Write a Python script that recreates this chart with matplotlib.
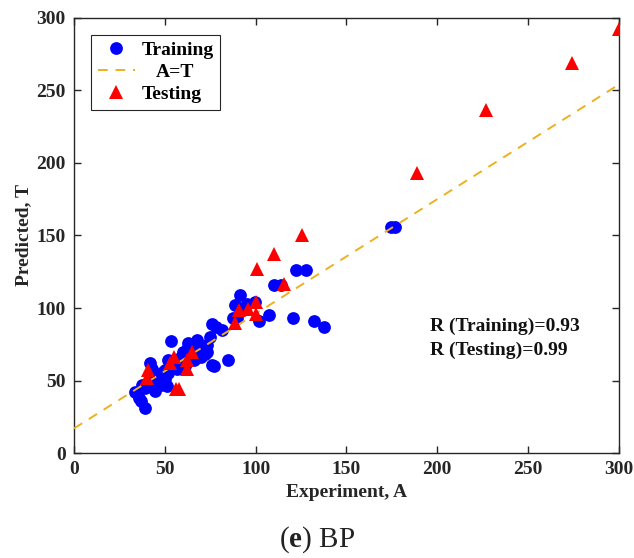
import numpy as np
import matplotlib
matplotlib.use('Agg')
import matplotlib.pyplot as plt

plt.rcParams['font.family'] = ['Liberation Serif', 'DejaVu Serif']
plt.rcParams['mathtext.fontset'] = 'custom'
plt.rcParams['mathtext.rm'] = 'Liberation Serif'
plt.rcParams['mathtext.bf'] = 'Liberation Serif:bold'

# Training set: experiment (A) vs predicted (T)
train_A = [33.5, 36, 37, 39, 37.5, 39, 41.8, 42.5, 43, 44.5, 45, 46.5, 48, 49, 50,
           50, 51, 52, 52, 53.5, 55, 56, 57, 59, 60, 61, 63, 63, 64, 66, 67.5, 68,
           69.3, 70, 72, 73, 73, 74.8, 75.8, 76, 77, 78, 81.3, 85, 87.7, 88.6, 90,
           91.4, 93, 95, 99.6, 102, 107.6, 110, 114, 120.5, 122, 128, 132, 137.5,
           174.5, 176.5]
train_T = [42, 38, 36, 31, 47, 45, 62, 50, 58, 43, 53, 50, 47, 56, 51,
           57, 46, 64, 55, 77, 60, 62, 58, 66, 70, 60, 76, 73, 67, 64, 78, 70,
           72, 66, 68, 74.5, 70, 80, 61, 89, 60, 87, 85, 64, 93, 102, 93,
           109, 100, 103, 104, 91, 95, 116, 116, 93, 126, 126, 91, 87,
           156, 156]

# Testing set
test_A = [41, 40, 53, 55, 56, 58, 62, 62, 65, 88.6, 91, 96, 100, 100.5, 101,
          110, 115.7, 125.5, 189, 227, 274, 300]
test_T = [57, 52, 62, 66, 44.5, 44, 64, 58, 70, 90, 98.6, 99, 104, 96, 127,
          137, 116.5, 150, 193, 236.5, 269, 292]

# Reference line
line_b = 17.0
line_m = 0.79

r_train = 0.93
r_test = 0.99

fig = plt.figure(figsize=(6.34, 5.58), dpi=100)
ax = fig.add_axes([0.1167, 0.188, 0.976 - 0.1167, 0.968 - 0.188])

ax.plot(train_A, train_T, 'o', color='#0000ff', markersize=9.2, markeredgewidth=0,
        label='Training', zorder=2)
xl = np.array([0, 300])
ax.plot(xl, line_b + line_m * xl, '--', color='#EDB120', linewidth=1.4,
        dashes=(5, 4), label='A=T', zorder=3)
ax.plot(test_A, test_T, '^', color='#ff0000', markersize=10, markeredgewidth=0,
        label='Testing', zorder=4)

ax.set_xlim(0, 300)
ax.set_ylim(0, 300)
ax.set_xticks(np.arange(0, 301, 50))
ax.set_yticks(np.arange(0, 301, 50))
ax.tick_params(direction='in', length=5, width=1, top=True, right=True,
               labelsize=14, colors='#262626', pad=6)
for lbl in ax.get_xticklabels() + ax.get_yticklabels():
    lbl.set_fontweight('bold')
for sp in ax.spines.values():
    sp.set_color('#262626')
    sp.set_linewidth(1)

ax.set_xlabel('Experiment, A', fontsize=14, fontweight='bold', color='#262626', labelpad=4)
ax.set_ylabel('Predicted, T', fontsize=14, fontweight='bold', color='#262626', labelpad=3)

leg = ax.legend(loc='upper left', bbox_to_anchor=(0.031, 0.961), fancybox=False,
                edgecolor='#262626', framealpha=1, borderaxespad=0,
                prop={'family': 'Liberation Serif', 'weight': 'bold', 'size': 14},
                handlelength=1.9, handletextpad=0.35, borderpad=0.35, labelspacing=0.22)
leg.get_frame().set_linewidth(0.8)
# nudge the middle label toward the centre of the box
leg.get_texts()[1].set_x(14)

ax.text(196, 87.6, f'R (Training)={r_train:.2f}', fontsize=14, fontweight='bold',
        color='#111111', va='center')
ax.text(196, 71, f'R (Testing)={r_test:.2f}', fontsize=14, fontweight='bold',
        color='#111111', va='center')

fig.text(0.5, 0.032, r'($\mathbf{e}$) BP', ha='center', va='center', fontsize=21,
         color='#222222')

fig.savefig('out.png', dpi=100)
